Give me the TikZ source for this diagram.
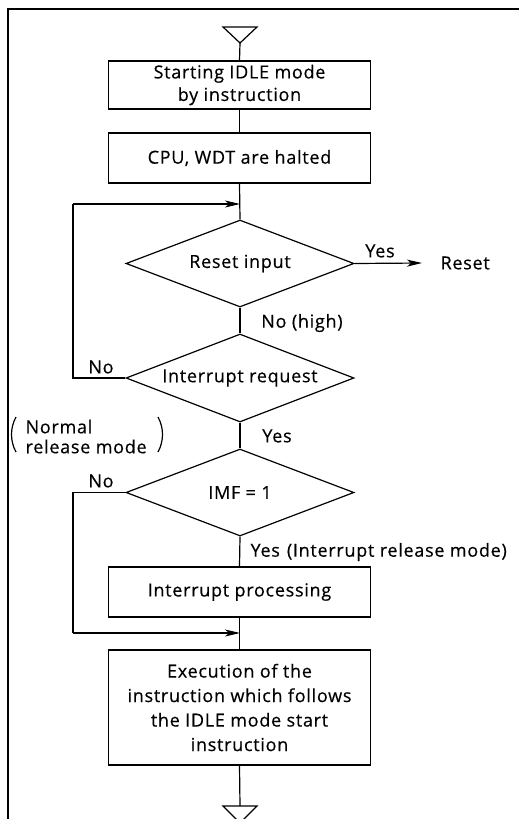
\documentclass[tikz,border=0pt]{standalone}
\usepackage{fontspec}
\setmainfont{Open Sans}[LetterSpace=4,FakeBold=0.4]
\usetikzlibrary{shapes.geometric,arrows.meta}
\begin{document}
\begin{tikzpicture}[x=1pt,y=-1pt,line width=1.2pt,
  every node/.style={font=\fontsize{18}{24.5}\selectfont},
  procbox/.style={draw,rectangle,minimum width=262pt,align=center,inner sep=0pt},
  decide/.style={draw,diamond,shape aspect=2.6,minimum width=228pt,inner sep=0pt},
  lbl/.style={inner sep=0pt},
  arr/.style={-{Stealth[length=15pt,width=7pt,inset=4pt]}}]
\useasboundingbox (0,0) rectangle (519,819);
% frame
\draw (8,819) -- (8,9) -- (519,9);
% terminal triangles
\coordinate (tstart) at (240,43);
\draw (223,27) -- (257,27) -- (tstart) -- cycle;
\coordinate (tend) at (240,806);
\draw (223,806) -- (257,806) -- (240,823) -- cycle;
% nodes
\node[procbox,minimum height=48pt] (b1) at (239.5,85) {Starting IDLE mode\\[-2pt]by instruction};
\node[procbox,minimum height=50pt] (b2) at (239.5,158) {CPU, WDT are halted};
\node[decide,minimum height=87pt] (d1) at (240,263.5) {Reset input};
\node[decide,minimum height=88pt] (d2) at (240,378) {Interrupt request};
\node[decide,minimum height=87pt] (d3) at (240,492.5) {IMF = 1};
\node[procbox,minimum height=50pt] (b3) at (239.5,592) {Interrupt processing};
\node[procbox,minimum height=115pt] (b4) at (239.5,707.5) {Execution of the\\instruction which follows\\the IDLE mode start\\instruction};
\node[lbl,anchor=west] (reset) at (440,263) {Reset};
\coordinate (j1) at (240,204);
\coordinate (j2) at (240,633);
\coordinate (l1) at (73,378);
\coordinate (l1t) at (73,204);
\coordinate (l3) at (73,492.5);
\coordinate (l3b) at (73,633);
% connectors
\draw (tstart) -- (b1.north);
\draw (b1.south) -- (b2.north);
\draw (b2.south) -- (d1.north);
\draw[arr] (d1.east) -- ([xshift=-18pt]reset.west);
\draw (d1.south) -- (d2.north);
\draw (d2.west) -- (l1) -- (l1t);
\draw[arr] (l1t) -- (j1);
\draw (d2.south) -- (d3.north);
\draw (d3.south) -- (b3.north);
\draw (d3.west) -- (l3) -- (l3b);
\draw[arr] (l3b) -- (j2);
\draw (b3.south) -- (b4.north);
\draw (b4.south) -- (tend);
% labels
\node[lbl] (y1) at (380,251) {Yes};
\node[lbl] (nh) at (302,323) {No (high)};
\node[lbl] (n2) at (101,367) {No};
\node[lbl] (y2) at (277,436) {Yes};
\node[lbl] (n3) at (101,481) {No};
\node[lbl,anchor=west] (y3) at (250,552) {Yes\hspace{7pt}(Interrupt release mode)};
\node[lbl,anchor=north west,align=left,font=\fontsize{18}{20}\selectfont] (nrm) at (25,419) {Normal\\release mode};
\draw[line width=1.2pt] (16,417) .. controls (10,428) and (10,441) .. (16,452);
\draw[line width=1.2pt] (158,417) .. controls (164,428) and (164,441) .. (158,452);
\end{tikzpicture}
\end{document}
